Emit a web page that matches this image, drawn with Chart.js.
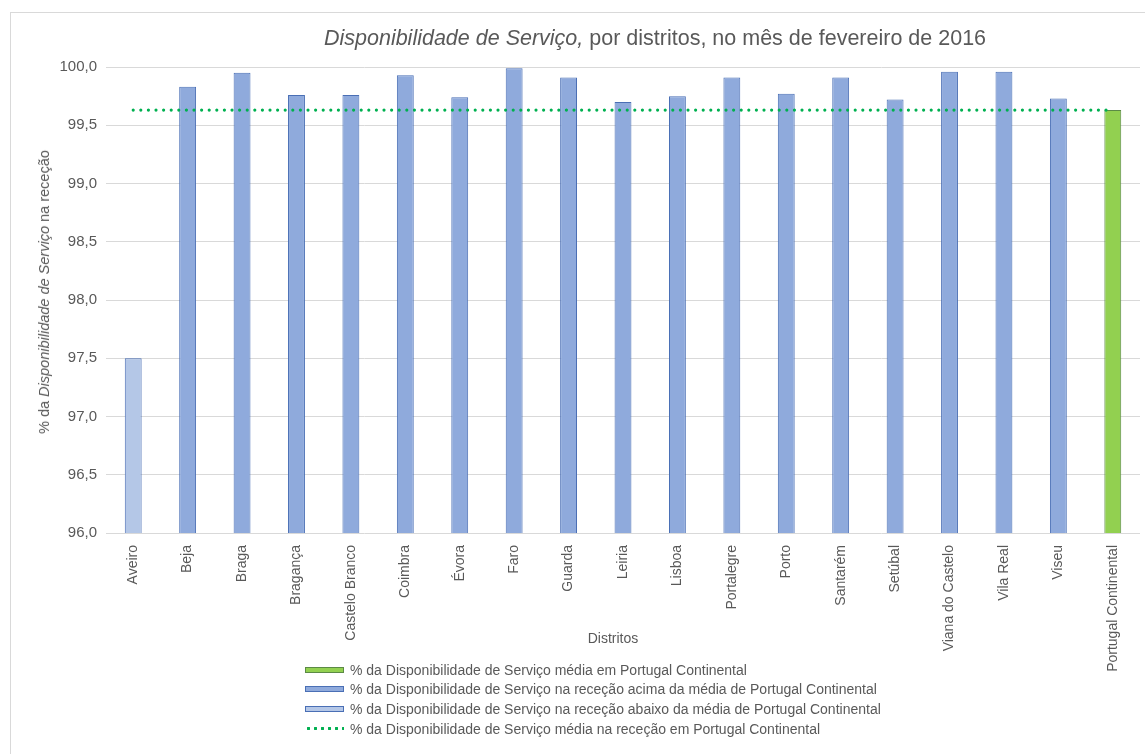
<!DOCTYPE html>
<html lang="pt">
<head>
<meta charset="utf-8">
<script src="https://cdn.jsdelivr.net/npm/chart.js@4/dist/chart.umd.min.js"></script>
<style>
  html, body { margin: 0; padding: 0; background: #fff; }
  body { width: 1145px; height: 754px; position: relative; overflow: hidden;
         font-family: "Liberation Sans", Arial, sans-serif; color: #595959; }
  #frame { position: absolute; left: 10px; top: 12px; width: 1200px; height: 800px;
           border: 1.5px solid #d9d9d9; box-sizing: border-box; }
  #chart { position: absolute; left: 0; top: 0; }
  .title { position: absolute; left: 655px; top: 38px; transform: translate(-50%, -50%);
           font-size: 21.5px; white-space: nowrap; }
  .ytitle { position: absolute; left: 44px; top: 292px; font-size: 14.5px; white-space: nowrap;
            transform: translate(-50%, -50%) rotate(-90deg); }
  .xtitle { position: absolute; left: 613px; top: 638px; font-size: 14px;
            transform: translate(-50%, -50%); }
  #legend { position: absolute; left: 305px; top: 660px; font-size: 14px; }
  .item { height: 19.6px; display: flex; align-items: center; white-space: nowrap; }
  .swatch { width: 39px; height: 6px; box-sizing: border-box; margin-right: 6px; border: 1px solid; }
  .dots { width: 39px; height: 3px; margin-right: 6px;
          background: radial-gradient(circle, #00b050 1.4px, transparent 1.6px) 0 0 / 7px 3px repeat-x; }
</style>
</head>
<body>
<div id="frame"></div>
<canvas id="chart" width="1145" height="754"></canvas>
<div class="title"><i>Disponibilidade de Serviço,</i> por distritos, no mês de fevereiro de 2016</div>
<div class="ytitle">% da <i>Disponibilidade de Serviço</i> na receção</div>
<div class="xtitle">Distritos</div>
<div id="legend"></div>
<script>
const distritos = [
  "Aveiro", "Beja", "Braga", "Bragança", "Castelo Branco", "Coimbra", "Évora",
  "Faro", "Guarda", "Leiria", "Lisboa", "Portalegre", "Porto", "Santarém",
  "Setúbal", "Viana do Castelo", "Vila Real", "Viseu", "Portugal Continental",
];

// barras por grupo (null onde a barra pertence a outra série)
const mediaContinental = [
  null, null, null, null, null, null, null, null, null, null,
  null, null, null, null, null, null, null, null, 99.63,
];
const acimaMedia = [
  null, 99.83, 99.95, 99.76, 99.76, 99.93, 99.74, 99.99, 99.91, 99.70,
  99.75, 99.91, 99.77, 99.91, 99.72, 99.96, 99.96, 99.73, null,
];
const abaixoMedia = [
  97.50, null, null, null, null, null, null, null, null, null,
  null, null, null, null, null, null, null, null, null,
];
const mediaRececao = [
  99.63, 99.63, 99.63, 99.63, 99.63, 99.63, 99.63, 99.63, 99.63, 99.63,
  99.63, 99.63, 99.63, 99.63, 99.63, 99.63, 99.63, 99.63, 99.63,
];

const yMin = 96;
const yMax = 100;
const yStep = 0.5;

const textColor = "#595959";
const fontFamily = '"Liberation Sans", Arial, sans-serif';

const series = [
  { label: "% da Disponibilidade de Serviço média em Portugal Continental",
    data: mediaContinental, fill: "#92d050", border: "#5b8a45" },
  { label: "% da Disponibilidade de Serviço na receção acima da média de Portugal Continental",
    data: acimaMedia, fill: "#8faadc", border: "#4a6fb5" },
  { label: "% da Disponibilidade de Serviço na receção abaixo da média de Portugal Continental",
    data: abaixoMedia, fill: "#b4c7e7", border: "#4a6fb5" },
];
const linha = "% da Disponibilidade de Serviço média na receção em Portugal Continental";

const barDatasets = series.map((s) => ({
  type: "bar",
  label: s.label,
  data: s.data,
  backgroundColor: s.fill,
  borderColor: s.border,
  borderWidth: 1,
  grouped: false,
  barPercentage: 0.31,
  categoryPercentage: 1,
  order: 2,
}));

const lineDataset = {
  type: "line",
  label: linha,
  data: mediaRececao,
  borderColor: "#00b050",
  borderWidth: 3.2,
  borderDash: [0, 7.6],
  borderCapStyle: "round",
  pointRadius: 0,
  order: 1,
};

new Chart(document.getElementById("chart").getContext("2d"), {
  data: {
    labels: distritos,
    datasets: [...barDatasets, lineDataset],
  },
  options: {
    responsive: false,
    animation: false,
    layout: {
      padding: { top: 67, right: 5, left: 0, bottom: 0 },
    },
    plugins: {
      legend: { display: false },
      tooltip: { enabled: false },
    },
    scales: {
      x: {
        grid: { display: false },
        border: { display: false },
        ticks: {
          color: textColor,
          font: { family: fontFamily, size: 14 },
          autoSkip: false,
          minRotation: 90,
          maxRotation: 90,
          padding: 4,
        },
        afterFit(scale) {
          scale.height = 221;
        },
      },
      y: {
        min: yMin,
        max: yMax,
        grid: { color: "#d9d9d9", lineWidth: 1, drawTicks: false },
        border: { display: false },
        ticks: {
          stepSize: yStep,
          color: textColor,
          font: { family: fontFamily, size: 15 },
          padding: 9,
          callback: (value) => value.toFixed(1).replace(".", ","),
        },
        afterFit(scale) {
          scale.width = 106;
        },
      },
    },
  },
});

// legenda ao estilo do original
const legend = document.getElementById("legend");
series.forEach((s) => {
  const row = document.createElement("div");
  row.className = "item";
  row.innerHTML = `<span class="swatch" style="background:${s.fill};border-color:${s.border}"></span>${s.label}`;
  legend.appendChild(row);
});
const row = document.createElement("div");
row.className = "item";
row.innerHTML = `<span class="dots"></span>${linha}`;
legend.appendChild(row);
</script>
</body>
</html>
